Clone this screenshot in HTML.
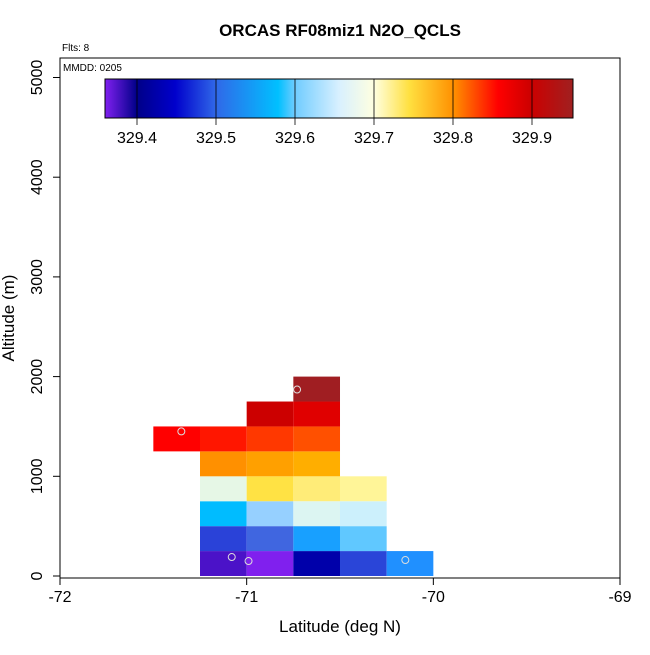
<!DOCTYPE html>
<html><head><meta charset="utf-8"><style>
body{margin:0;background:#fff;font-family:"Liberation Sans",sans-serif}
</style></head><body>
<svg id="chart" width="650" height="650" xmlns="http://www.w3.org/2000/svg" font-family="Liberation Sans, sans-serif">
<defs><linearGradient id="cb" x1="0" x2="1" y1="0" y2="0">
<stop offset="0" stop-color="#8020F0"/><stop offset="0.068" stop-color="#000088"/>
<stop offset="0.15" stop-color="#0000CC"/><stop offset="0.237" stop-color="#3068E8"/>
<stop offset="0.37" stop-color="#00C0FF"/><stop offset="0.406" stop-color="#70CCFF"/>
<stop offset="0.5" stop-color="#D8F0FF"/><stop offset="0.575" stop-color="#FFFFE0"/>
<stop offset="0.65" stop-color="#FFE040"/><stop offset="0.745" stop-color="#FF9000"/>
<stop offset="0.84" stop-color="#FF0000"/><stop offset="0.91" stop-color="#CC0000"/>
<stop offset="1" stop-color="#A02020"/></linearGradient></defs>
<text x="340" y="36" font-size="17" font-weight="bold" text-anchor="middle">ORCAS RF08miz1 N2O_QCLS</text>
<text x="62" y="51" font-size="10">Flts: 8</text>
<g id="cells"></g>
<g id="pts"></g>
<rect x="60" y="58" width="560" height="520" fill="none" stroke="#000" stroke-width="1"/>
<text x="63" y="71" font-size="10">MMDD: 0205</text>
<rect x="105" y="79" width="468" height="39" fill="url(#cb)" stroke="#000" stroke-width="1"/>
<g id="cbt"></g>
<g id="axes"></g>
<text x="340" y="632" font-size="17" text-anchor="middle">Latitude (deg N)</text>
<text x="14" y="318" font-size="17" text-anchor="middle" transform="rotate(-90 14 318)">Altitude (m)</text>
</svg>
<script>
const cellLon=[-71.25,-71,-70.75,-70.5,-70.25, -71.25,-71,-70.75,-70.5, -71.25,-71,-70.75,-70.5, -71.25,-71,-70.75,-70.5, -71.25,-71,-70.75, -71.5,-71.25,-71,-70.75, -71,-70.75, -70.75];
const cellAlt=[0,0,0,0,0, 250,250,250,250, 500,500,500,500, 750,750,750,750, 1000,1000,1000, 1250,1250,1250,1250, 1500,1500, 1750];
const cellColor=["#4B12C8","#8020EE","#0000AA","#2A45D8","#2090FF","#2A42D8","#4066E0","#18A0FF","#60C8FF","#00BCFF","#96D0FF","#DCF5F2","#CCF0FC","#E6F7E6","#FFE244","#FFEC78","#FFF598","#FF9000","#FFA000","#FFAE00","#FF0000","#FF1600","#FF3800","#FF5000","#CC0000","#E00000","#A01E22"];
const ptLon=[-71.35,-71.08,-70.99,-70.73,-70.15];
const ptAlt=[1450,190,150,1870,160];
const xTicks=[-72,-71,-70,-69];
const yTicks=[0,1000,2000,3000,4000,5000];
const cbTicks=[329.4,329.5,329.6,329.7,329.8,329.9];
const NS="http://www.w3.org/2000/svg";
const X=v=>60+(v+72)*186.67, Y=v=>576-v*0.0997, C=v=>137+(v-329.4)*790;
function mk(t,a,p){const e=document.createElementNS(NS,t);for(const k in a)e.setAttribute(k,a[k]);p.appendChild(e);return e;}
const cells=document.getElementById('cells');
cellLon.forEach((l,i)=>{const r=mk('rect',{x:X(l),y:Y(cellAlt[i]+250),width:X(l+0.25)-X(l),height:Y(cellAlt[i])-Y(cellAlt[i]+250),fill:cellColor[i]},cells);

});
const pts=document.getElementById('pts');
ptLon.forEach((l,i)=>{const c=mk('circle',{cx:X(l),cy:Y(ptAlt[i]),r:3.5,fill:'none',stroke:'#ddd','stroke-width':1},pts);

});
const ax=document.getElementById('axes');
xTicks.forEach(v=>{const x=X(v);mk('line',{x1:x,x2:x,y1:578,y2:585,stroke:'#000'},ax);
const t=mk('text',{x:x,y:602,'font-size':16,'text-anchor':'middle'},ax);t.textContent=v;

});
yTicks.forEach(v=>{const y=Y(v);mk('line',{x1:53,x2:60,y1:y,y2:y,stroke:'#000'},ax);
const t=mk('text',{x:42,y:y,'font-size':16,'text-anchor':'middle',transform:`rotate(-90 42 ${y})`},ax);t.textContent=v;

});
const cbt=document.getElementById('cbt');
cbTicks.forEach(v=>{const x=C(v);mk('line',{x1:x,x2:x,y1:79,y2:125,stroke:'#000','stroke-width':0.8},cbt);
const t=mk('text',{x:x,y:143,'font-size':16,'text-anchor':'middle'},cbt);t.textContent=v.toFixed(1);

});
</script>
</body></html>
